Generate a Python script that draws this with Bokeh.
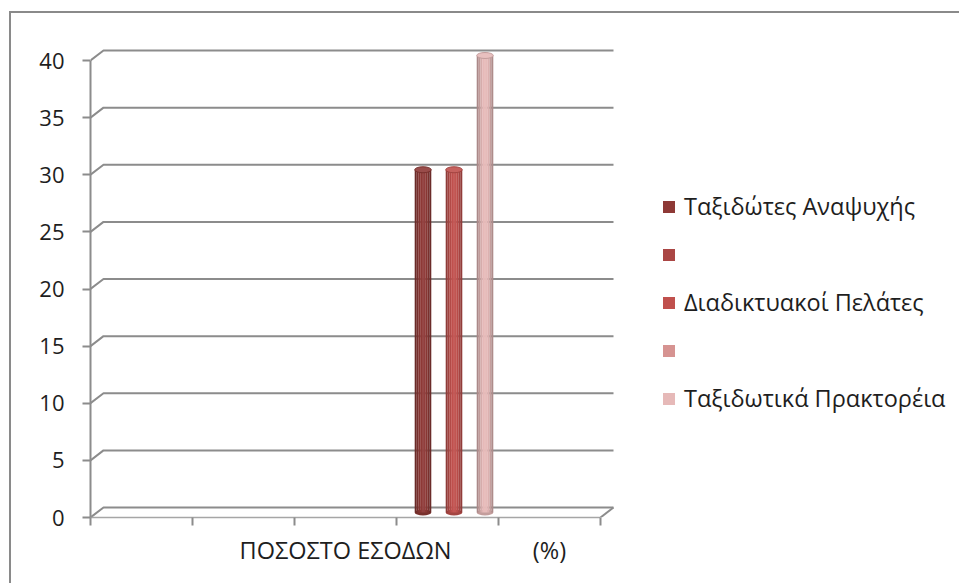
import numpy as np
from bokeh.plotting import figure
from bokeh.models import Range1d, FixedTicker, Legend, LegendItem
from bokeh.embed import file_html
from bokeh.resources import INLINE

# ---- data -------------------------------------------------------------
categories = ["", "", "ΠΟΣΟΣΤΟ ΕΣΟΔΩΝ", "", "(%)"]
series_names = ["Ταξιδώτες Αναψυχής", " ", "Διαδικτυακοί Πελάτες", " ", "Ταξιδωτικά Πρακτορέια"]
leisure_travellers = [None, None, None, 30, None]
series_two = [None, None, None, None, None]
online_customers = [None, None, None, 30, None]
series_four = [None, None, None, None, None]
travel_agencies = [None, None, None, 40, None]
y_ticks = [0, 5, 10, 15, 20, 25, 30, 35, 40]

series_values = [leisure_travellers, series_two, online_customers, series_four, travel_agencies]
series_colors = ["#8E3936", "#AA4644", "#C0504D", "#D69391", "#E6B9B8"]

# ---- geometry (category units on x, value units on y) -----------------
PX_PER_CAT = 102.0
PX_PER_UNIT = 11.425
FRAME_W, FRAME_H = 869, 477
DX = 13 / PX_PER_CAT          # depth shift of the back wall
DY = 10 / PX_PER_UNIT
group_offsets = [-0.304, -0.152, 0.0, 0.152, 0.304]
bar_w = 16.5 / PX_PER_CAT
n_cat = len(categories)

GRID = "#8C8C8C"
TEXT = "#1E1E1E"
FONT = "Open Sans"

p = figure(frame_width=FRAME_W, frame_height=FRAME_H, output_backend="svg", toolbar_location=None,
           x_range=Range1d(0, FRAME_W / PX_PER_CAT), y_range=Range1d(0, FRAME_H / PX_PER_UNIT),
           min_border_left=90, min_border_right=0, min_border_top=40, min_border_bottom=66)
p.background_fill_color = None
p.border_fill_color = None
p.outline_line_color = None
p.grid.visible = False
p.styles = {
    "background": ("linear-gradient(#8A8A8A,#8A8A8A) 10px 11px / 949px 2px no-repeat, "
                   "linear-gradient(#8A8A8A,#8A8A8A) 9px 11px / 2px 572px no-repeat, #FFFFFF"),
}

# back-wall gridlines with their perspective step at the left edge
gx, gy = [], []
for v in y_ticks:
    gx.append([0, DX, n_cat + DX])
    gy.append([v, v + DY, v + DY])
# right edge of the floor
gx.append([n_cat, n_cat + DX])
gy.append([0, DY])
p.multi_line(gx, gy, line_color=GRID, line_width=2)

# ---- cylinders ---------------------------------------------------------
def shade(hex_color, f):
    h = hex_color.lstrip("#")
    rgb = [int(h[i:i + 2], 16) for i in (0, 2, 4)]
    if f < 1:
        rgb = [int(c * f) for c in rgb]
    else:
        rgb = [int(c + (255 - c) * (f - 1)) for c in rgb]
    return "#%02X%02X%02X" % tuple(min(255, max(0, c)) for c in rgb)

strip_factors = [0.74, 0.84, 0.93, 1.0, 1.05, 1.03, 0.96, 0.86, 0.76]
n_strip = len(strip_factors)

legend_items = []
for s, (name, vals, col, off) in enumerate(zip(series_names, series_values, series_colors, group_offsets)):
    xs = [i + 0.5 + off + DX / 2 for i, v in enumerate(vals) if v is not None]
    tops = [v + DY / 2 for v in vals if v is not None]
    bottoms = [DY / 2] * len(tops)
    # bottom cap
    p.ellipse(x=xs, y=bottoms, width=bar_w, height=6, height_units="screen",
              fill_color=shade(col, 0.85), line_color=None)
    # shaded body
    for k, f in enumerate(strip_factors):
        sx = [x + (k + 0.5 - n_strip / 2) * bar_w / n_strip for x in xs]
        p.vbar(x=sx, bottom=bottoms, top=tops, width=bar_w / n_strip * 1.05,
               fill_color=shade(col, f), line_color=None)
    # top cap
    p.ellipse(x=xs, y=tops, width=bar_w, height=6, height_units="screen",
              fill_color=shade(col, 1.1), line_color=shade(col, 0.85), line_width=1)
    # legend swatch (no visible mark of its own)
    sw = p.vbar(x=[np.nan], top=[np.nan], width=0.1, fill_color=col, line_color=None)
    legend_items.append(LegendItem(label=name, renderers=[sw]))

# ---- axes --------------------------------------------------------------
ya = p.yaxis[0]
ya.ticker = FixedTicker(ticks=y_ticks)
ya.bounds = (0, 40)
ya.axis_line_color = GRID
ya.axis_line_width = 2
ya.major_tick_line_color = GRID
ya.major_tick_line_width = 2
ya.major_tick_out = 8
ya.major_tick_in = 0
ya.minor_tick_line_color = None
ya.major_label_standoff = 18
ya.major_label_text_font = FONT
ya.major_label_text_font_size = "22px"
ya.major_label_text_color = TEXT

xa = p.xaxis[0]
xa.ticker = FixedTicker(ticks=[i + 0.5 for i in range(n_cat)],
                        minor_ticks=list(range(n_cat + 1)))
xa.bounds = (0, n_cat)
xa.major_label_overrides = {i + 0.5: c for i, c in enumerate(categories)}
xa.axis_line_color = "#A6A6A6"
xa.axis_line_width = 1.5
xa.major_tick_line_color = None
xa.major_tick_out = 0
xa.major_tick_in = 0
xa.minor_tick_line_color = GRID
xa.minor_tick_line_width = 2
xa.minor_tick_out = 8
xa.minor_tick_in = 0
xa.major_label_standoff = 8
xa.major_label_text_font = FONT
xa.major_label_text_font_size = "23.5px"
xa.major_label_text_color = TEXT

# ---- legend ------------------------------------------------------------
legend = Legend(items=legend_items, location=(571, 103), orientation="vertical",
                glyph_width=15, glyph_height=15, label_standoff=8, label_height=30, spacing=17,
                padding=0, margin=0, border_line_color=None, background_fill_color=None,
                label_text_font=FONT, label_text_font_size="23.5px", label_text_color=TEXT)
p.add_layout(legend, "center")

open("out.html", "w").write(file_html(p, INLINE))
